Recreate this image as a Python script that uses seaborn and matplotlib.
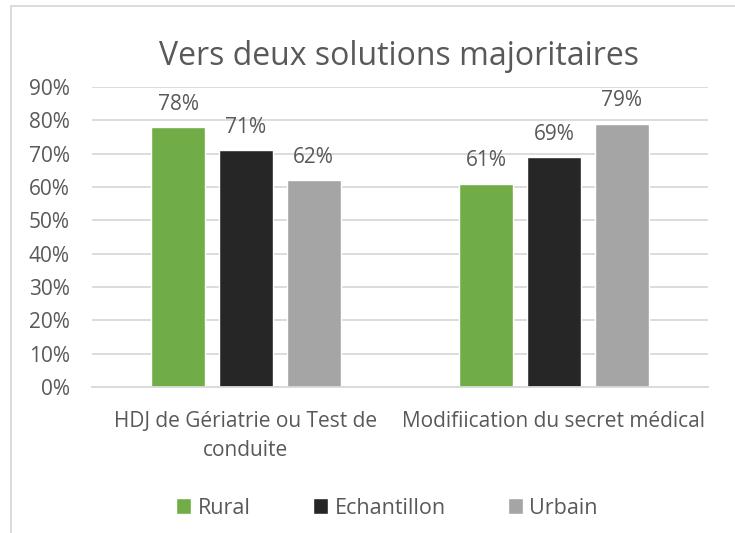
import pandas as pd
import seaborn as sns
import matplotlib.pyplot as plt
from matplotlib.patches import Rectangle
from matplotlib.ticker import PercentFormatter

categories = ["HDJ de Gériatrie ou Test de\nconduite", "Modifiication du secret médical"]
series_names = ["Rural", "Echantillon", "Urbain"]
rural = [0.78, 0.61]
echantillon = [0.71, 0.69]
urbain = [0.62, 0.79]
y_ticks = [0, 0.1, 0.2, 0.3, 0.4, 0.5, 0.6, 0.7, 0.8, 0.9]

colors = ["#70AD47", "#262626", "#A5A5A5"]
text_color = "#595959"
grid_color = "#D9D9D9"

df = pd.DataFrame({
    "categorie": categories * 3,
    "serie": [s for s in series_names for _ in categories],
    "valeur": rural + echantillon + urbain,
})

sns.set_theme(style="white")
plt.rcParams["font.family"] = ["Open Sans", "DejaVu Sans"]

fig = plt.figure(figsize=(7.35, 5.33), dpi=100)
ax = fig.add_axes([92 / 735, 1 - 387 / 533, (708 - 92) / 735, (387 - 87) / 533])

sns.barplot(data=df, x="categorie", y="valeur", hue="serie",
            hue_order=series_names, palette=colors, width=0.66, gap=0.2,
            saturation=1, ax=ax, legend=True)

ax.set_ylim(0, 0.9)
ax.set_yticks(y_ticks)
ax.yaxis.set_major_formatter(PercentFormatter(1.0, decimals=0))
ax.grid(axis="y", color=grid_color, linewidth=1.3)
ax.set_axisbelow(True)
for side in ["top", "right", "left"]:
    ax.spines[side].set_visible(False)
ax.spines["bottom"].set_color(grid_color)
ax.spines["bottom"].set_linewidth(1.3)
ax.tick_params(axis="both", length=0, labelsize=15, labelcolor=text_color)
ax.tick_params(axis="x", pad=17)
ax.tick_params(axis="y", pad=16)
ax.set_xlabel("")
ax.set_ylabel("")
for lbl in ax.get_xticklabels():
    lbl.set_linespacing(1.55)

for cont in ax.containers:
    ax.bar_label(cont, labels=[f"{v * 100:.0f}%" for v in cont.datavalues],
                 padding=9, fontsize=15, color=text_color)

fig.text(399 / 735, 1 - 65 / 533, "Vers deux solutions majoritaires",
         ha="center", va="baseline", fontsize=23, color=text_color)

ax.legend(loc="center", bbox_to_anchor=(387 / 735, 1 - 508 / 533),
          bbox_transform=fig.transFigure, ncol=3, frameon=False,
          fontsize=15.5, labelcolor=text_color, handlelength=0.7,
          handleheight=0.7, handletextpad=0.3, columnspacing=2.9)

fig.patches.append(Rectangle((11 / 735, -0.1), 1.1, 1.1 - 6 / 533,
                             transform=fig.transFigure, fill=False,
                             edgecolor=grid_color, linewidth=1.3))

fig.savefig("out.png", dpi=100)
